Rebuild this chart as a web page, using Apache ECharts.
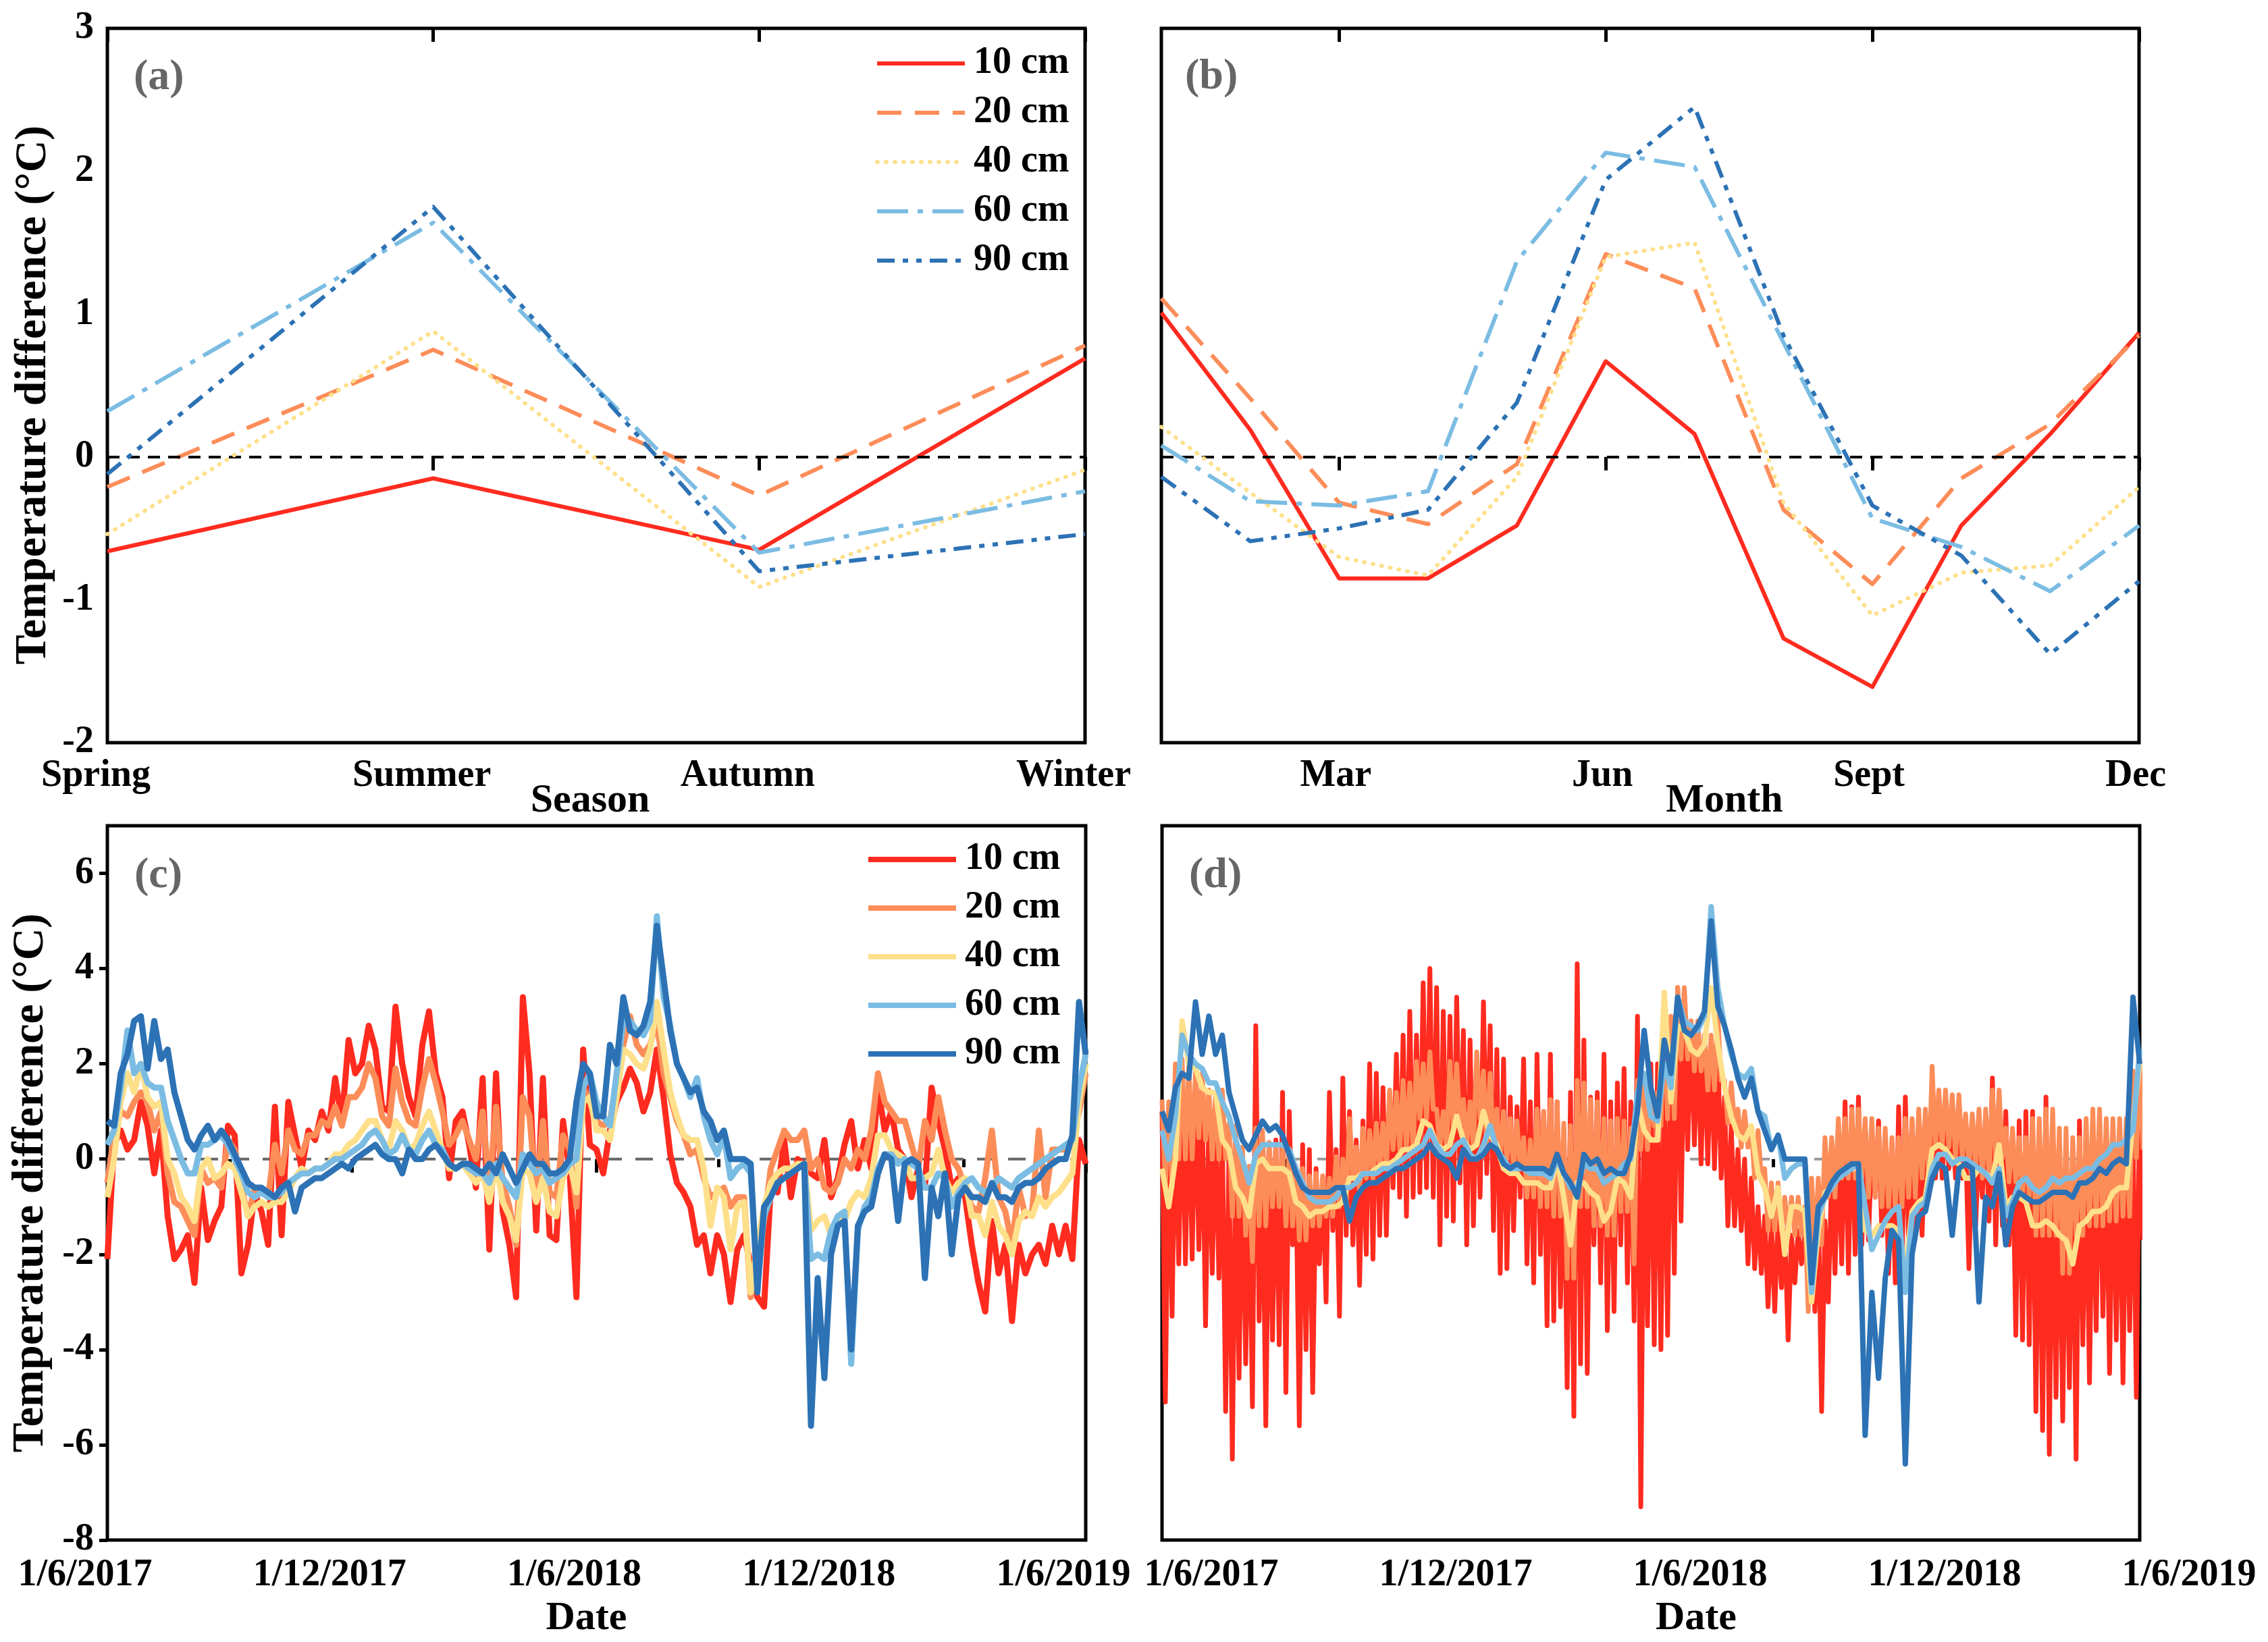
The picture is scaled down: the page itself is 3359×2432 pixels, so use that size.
<!DOCTYPE html>
<html>
<head>
<meta charset="utf-8">
<script src="https://cdn.jsdelivr.net/npm/echarts@6/dist/echarts.min.js"></script>
<style>
  html, body { margin: 0; padding: 0; background: #fff; }
  #chart { width: 3359px; height: 2432px; }
</style>
</head>
<body>
<div id="chart"></div>
<script>
const FONT = "'Liberation Serif', serif";

// depth series shared by all panels
const depthNames = ['10 cm', '20 cm', '40 cm', '60 cm', '90 cm'];
const depthColors = ['#FF2B1F', '#FC8D59', '#FEE08B', '#7BBCE3', '#2C72B5'];
const depthDashes = ['solid', [36, 20], [1, 12], [46, 14, 8, 14], [26, 12, 8, 12, 8, 12]];

// (a) seasonal mean difference
const seasons = ['Spring', 'Summer', 'Autumn', 'Winter'];
const a10 = [-0.66, -0.15, -0.65, 0.69];
const a20 = [-0.21, 0.75, -0.27, 0.78];
const a40 = [-0.54, 0.88, -0.91, -0.09];
const a60 = [0.32, 1.64, -0.67, -0.24];
const a90 = [-0.12, 1.75, -0.80, -0.54];

// (b) monthly mean difference
const months = [1, 2, 3, 4, 5, 6, 7, 8, 9, 10, 11, 12];
const monthTicks = [3, 6, 9, 12];
const monthTickLabels = ['Mar', 'Jun', 'Sept', 'Dec'];
const b10 = [1.01, 0.19, -0.85, -0.85, -0.48, 0.67, 0.16, -1.27, -1.61, -0.48, 0.16, 0.87];
const b20 = [1.11, 0.41, -0.32, -0.47, -0.05, 1.42, 1.18, -0.37, -0.89, -0.15, 0.23, 0.85];
const b40 = [0.21, -0.25, -0.70, -0.83, -0.14, 1.40, 1.50, -0.32, -1.11, -0.81, -0.76, -0.21];
const b60 = [0.08, -0.31, -0.34, -0.24, 1.37, 2.13, 2.03, 0.80, -0.43, -0.63, -0.94, -0.48];
const b90 = [-0.14, -0.59, -0.50, -0.37, 0.38, 1.94, 2.45, 0.85, -0.34, -0.69, -1.38, -0.87];

// (c), (d) time series: one value every DAY_STEP days from 1/6/2017
const DAY_STEP = 5;
const dateTickLabels = ['1/6/2017', '1/12/2017', '1/6/2018', '1/12/2018', '1/6/2019'];
const tempTicks = [-8, -6, -4, -2, 0, 2, 4, 6];

const c10 = [
  -2.1, 0.3, 0.6, 0.2, 0.4, 1.2, 0.7, -0.3, 0.6, -1.2,
  -2.1, -1.9, -1.6, -2.6, -0.6, -1.7, -1.3, -1.0, 0.7, 0.5,
  -2.4, -1.8, -0.7, -1.1, -1.8, 1.1, -1.6, 1.2, 0.5, -0.2,
  0.6, 0.4, 1.0, 0.6, 1.7, 0.8, 2.5, 1.8, 2.0, 2.8,
  2.3, 1.1, 1.0, 3.2, 2.0, 1.3, 0.9, 2.4, 3.1, 1.8,
  1.3, -0.4, 0.8, 1.0, 0.3, -0.6, 1.7, -1.9, 1.8, -1.1,
  -1.8, -2.9, 3.4, 1.8, -1.5, 1.7, -1.6, -1.7, 0.8, -0.3,
  -2.9, 2.3, 0.3, 0.2, -0.3, 0.6, 1.2, 1.5, 1.9, 1.6,
  1.0, 1.4, 2.3, 1.3, 0.1, -0.5, -0.7, -1.0, -1.8, -1.6,
  -2.4, -1.6, -2.0, -3.0, -1.9, -1.6, -2.2, -2.9, -3.1, -0.6,
  -0.7, 0.4, -0.8, 0.0, -0.1, -0.3, -0.4, 0.4, -0.8, -0.4,
  0.3, 0.8, -0.2, 0.4, -0.2, 1.5, 0.6, 1.0, 0.2, 0.0,
  -0.8, -0.2, -0.6, 1.5, 0.8, 0.2, -0.6, -0.4, -0.8, -1.8,
  -2.6, -3.2, -1.3, -2.4, -1.8, -3.4, -1.8, -2.4, -2.0, -1.8,
  -2.2, -1.4, -2.0, -1.4, -2.1, 0.4, -0.1
];
const c20 = [
  -0.5, 0.5, 1.0, 0.9, 1.2, 1.4, 1.2, 0.6, 1.0, -0.3,
  -0.9, -1.0, -1.3, -1.6, -0.2, -0.5, -0.4, -0.6, 0.4, 0.2,
  -0.6, -1.2, -0.6, -0.7, -0.8, 0.3, -0.3, 0.6, 0.2, 0.1,
  0.5, 0.5, 0.8, 0.7, 1.1, 0.7, 1.3, 1.3, 1.5, 2.0,
  1.7, 0.9, 0.7, 1.9, 1.2, 0.8, 0.7, 1.5, 2.1, 1.6,
  1.0, 0.3, 0.5, 0.8, 0.4, 0.0, 1.0, -0.6, 1.1, -0.5,
  -1.0, -1.8, 1.3, 0.9, -0.8, 0.8, -0.7, -0.8, 0.5, 0.2,
  -1.0, 1.5, 1.2, 0.8, 0.7, 0.8, 1.6, 2.4, 3.0, 2.4,
  2.2, 2.4, 2.9, 1.8, 1.3, 0.8, 0.5, 0.1, 0.2, -0.4,
  -0.8, -0.7, -0.6, -1.0, -0.8, -0.8, -2.9, -1.8, -1.3, -0.2,
  0.2, 0.6, 0.4, 0.4, 0.6, -0.2, 0.0, -0.6, -0.7, -0.5,
  0.0, -0.2, 0.2, 0.0, 0.6, 1.8, 1.2, 1.0, 0.8, 0.8,
  0.3, -0.2, 0.8, 0.4, 1.3, 0.6, 0.0, -0.2, -0.6, -1.0,
  -1.1, -0.4, 0.6, -0.8, -1.1, -1.8, -0.6, -1.2, -1.1, 0.6,
  -0.8, 0.2, 0.2, 0.2, 0.4, 1.0, 1.8
];
const c40 = [
  -0.8, 0.0, 1.2, 1.8, 1.4, 2.0, 1.3, 1.1, 1.2, 0.0,
  -0.3, -0.8, -1.0, -1.3, -0.2, 0.0, -0.4, -0.3, -0.1, -0.2,
  -0.7, -1.2, -1.0, -0.9, -1.0, -0.9, -0.9, -0.7, -0.4, -0.2,
  -0.3, -0.2, -0.2, -0.1, 0.1, 0.1, 0.3, 0.4, 0.6, 0.8,
  0.8, 0.4, 0.2, 0.8, 0.6, 0.2, 0.3, 0.7, 1.0, 0.6,
  0.2, -0.2, -0.2, -0.1, -0.3, -0.5, -0.3, -0.9, -0.1, -0.9,
  -1.2, -1.7, -0.2, -0.3, -0.9, -0.4, -1.1, -1.2, -0.4, -0.1,
  -0.7, 1.2, 1.3, 0.6, 0.6, 0.4, 1.3, 2.3, 2.2, 2.0,
  1.9, 2.3, 3.3, 2.3, 1.4, 0.9, 0.5, 0.4, 0.4, -0.2,
  -1.4, -0.6, -0.8, -1.9, -1.0, -0.9, -2.8, -1.8, -1.0, -0.5,
  -0.3, -0.2, -0.2, -0.1, -0.1, -1.5, -1.3, -1.2, -1.6, -1.2,
  -1.3, -0.9, -0.7, -0.8, -0.4, 0.5, 0.5, 0.2, 0.1, 0.0,
  -0.4, -0.4, -0.4, -0.3, 0.2, -0.4, -0.7, -0.5, -0.4, -1.2,
  -1.2, -1.6, -0.9, -1.4, -1.6, -2.0, -1.3, -1.1, -1.2, -0.8,
  -1.0, -0.8, -0.7, -0.5, -0.3, 1.2, 2.0
];
const c60 = [
  0.3, 0.6, 1.5, 2.7, 1.8, 2.0, 1.6, 1.5, 1.5, 0.8,
  0.4, 0.0, -0.3, -0.3, 0.3, 0.3, 0.4, 0.5, 0.3, 0.0,
  -0.3, -0.7, -0.8, -0.7, -0.8, -0.8, -0.7, -0.5, -0.4, -0.3,
  -0.3, -0.2, -0.2, -0.1, 0.0, 0.0, 0.1, 0.2, 0.3, 0.5,
  0.6, 0.4, 0.1, 0.2, 0.5, 0.2, 0.1, 0.4, 0.6, 0.3,
  0.2, -0.1, -0.2, -0.1, -0.2, -0.3, -0.3, -0.5, -0.1, -0.4,
  -0.6, -0.8, 0.1, -0.1, -0.3, -0.2, -0.5, -0.4, -0.3, -0.1,
  0.0, 1.5, 1.8, 1.2, 0.9, 0.7, 1.8, 2.9, 2.9, 2.7,
  2.6, 2.9, 5.1, 3.4, 2.8, 2.0, 1.7, 1.3, 1.7, 0.9,
  0.4, 0.1, 0.5, -0.4, -0.2, -0.1, -0.3, -2.6, -1.2, -0.8,
  -0.5, -0.4, -0.3, -0.2, -0.1, -2.1, -2.0, -2.1, -1.5, -1.2,
  -1.1, -4.3, -1.5, -1.0, -0.8, -0.2, 0.1, 0.1, -0.1, 0.0,
  -0.1, -0.2, -0.6, -0.6, -0.3, -0.4, -1.0, -0.7, -0.5, -0.4,
  -0.6, -0.7, -0.6, -0.4, -0.5, -0.6, -0.4, -0.3, -0.2, -0.1,
  0.0, 0.1, 0.2, 0.3, 0.4, 1.5, 2.2
];
const c90 = [
  0.8, 0.7, 1.8, 2.2, 2.9, 3.0, 1.9, 2.9, 2.1, 2.3,
  1.4, 0.9, 0.4, 0.2, 0.5, 0.7, 0.4, 0.6, 0.4, 0.1,
  -0.2, -0.5, -0.6, -0.6, -0.7, -0.8, -0.6, -0.5, -1.1, -0.6,
  -0.5, -0.4, -0.4, -0.3, -0.2, -0.1, -0.2, 0.0, 0.1, 0.2,
  0.3, 0.1, 0.0, 0.0, -0.3, 0.2, 0.0, 0.0, 0.2, 0.3,
  0.1, -0.1, -0.2, -0.1, -0.1, -0.2, -0.3, -0.1, -0.3, 0.1,
  -0.2, -0.5, -0.2, 0.1, -0.1, -0.1, -0.3, -0.3, -0.2, 0.0,
  1.2, 2.0, 1.8, 0.9, 0.9, 2.4, 2.0, 3.4, 2.7, 2.6,
  2.8, 3.3, 4.9, 3.8, 2.7, 2.0, 1.7, 1.4, 1.5, 1.0,
  0.8, 0.4, 0.6, 0.0, 0.0, 0.0, -0.1, -2.8, -1.0, -0.8,
  -0.5, -0.4, -0.3, -0.2, -0.1, -5.6, -2.5, -4.6, -2.0, -1.4,
  -1.3, -4.0, -1.4, -1.1, -1.0, -0.3, 0.1, 0.0, -1.3, -0.1,
  0.0, -0.1, -2.5, -0.6, -1.2, -0.3, -2.0, -0.8, -0.6, -0.8,
  -0.8, -0.9, -0.5, -0.8, -0.8, -0.9, -0.6, -0.5, -0.5, -0.4,
  -0.2, -0.1, 0.0, 0.0, 0.5, 3.3, 2.2
];

// (d) 10 cm and 20 cm swing strongly within each step: upper and lower readings
const d10Hi = [
  1.0, 0.8, 1.2, 1.6, 1.5, 1.6, 1.2, 1.0, 0.8, 0.7,
  0.2, 0.2, 0.0, -0.2, 2.8, 0.0, 0.2, 0.4, 1.4, 1.0,
  -0.2, 0.3, 0.2, -0.2, -0.4, 1.4, 0.2, 1.7, 1.0, 0.4,
  0.8, 2.0, 1.8, 1.5, 1.4, 2.2, 2.6, 3.1, 2.6, 3.7,
  4.0, 3.6, 3.1, 3.0, 3.4, 2.7, 2.5, 1.9, 3.3, 2.8,
  2.3, 2.1, 1.3, 1.1, 2.1, 1.2, 2.2, 1.0, 2.2, 1.2,
  0.6, 1.4, 4.1, 2.5, 1.3, 1.4, 2.2, 1.2, 1.6, 1.9,
  1.2, 3.0, 1.5, 2.0, 2.0, 1.85, 2.9, 3.6, 3.0, 2.9,
  2.5, 2.6, 2.4, 2.3, 1.3, 0.7, 0.2, 0.0, -0.4, -1.0,
  -1.2, -1.3, -1.2, -1.5, -1.6, -1.5, -1.6, -1.8, -0.8, -1.3,
  -0.3, 0.5, 1.2, 1.1, 1.3, 0.6, 0.4, 0.8, 0.2, 0.2,
  1.1, 1.3, 0.8, 0.2, 0.6, 1.2, 1.2, 1.0, 0.8, 0.6,
  0.4, 0.3, 0.4, 0.8, 1.7, 1.1, 1.0, 0.6, 0.8, 1.0,
  1.0, 0.3, 1.3, 0.2, 0.0, -0.2, 0.2, 0.8, 0.0, 0.2,
  0.8, 0.2, 0.6, 0.4, 0.2, 0.6, 1.6
];
const d10Lo = [
  -5.1, -3.3, -2.2, -2.2, -2.1, -1.9, -3.5, -2.4, -2.5, -5.3,
  -6.3, -4.6, -4.3, -5.2, -3.4, -5.6, -3.8, -3.9, -4.9, -1.8,
  -5.6, -4.0, -4.9, -2.2, -3.0, -1.5, -3.3, -1.6, -1.8, -2.65,
  -2.0, -2.1, -1.6, -1.6, -0.6, -0.8, -1.2, -0.8, -0.7, -0.6,
  -0.8, -1.8, -1.2, -1.3, -0.5, -1.8, -1.4, -0.8, -0.3, -1.5,
  -2.4, -2.3, -1.5, -0.8, -2.2, -2.6, -2.0, -3.5, -3.4, -3.1,
  -4.8, -5.4, -4.3, -4.5, -1.8, -2.6, -3.6, -3.2, -1.8, -2.6,
  -3.4, -7.3, -3.5, -3.9, -4.0, -3.7, -2.4, -1.3, 0.2, 0.3,
  -0.1, -0.1, -0.2, -0.4, -1.4, -1.4, -1.5, -2.2, -2.3, -2.4,
  -3.1, -3.2, -2.7, -3.8, -2.6, -2.2, -2.0, -3.2, -5.3, -3.0,
  -2.4, -2.2, -2.4, -2.0, -1.8, -1.7, -0.8, -1.6, -2.4, -2.6,
  -2.3, -1.8, -1.6, -1.6, -0.8, -0.4, -0.4, -0.2, -0.4, -0.4,
  -2.3, -1.4, -0.8, -1.3, -1.8, -1.4, -1.8, -3.7, -3.8, -3.9,
  -5.3, -5.7, -6.2, -5.0, -5.5, -4.8, -6.3, -3.9, -4.7, -3.6,
  -3.3, -4.5, -3.8, -4.7, -3.6, -5.0, -1.7
];
const d20Hi = [
  1.25, 1.2, 2.0, 2.1, 2.0, 1.85, 1.8, 1.45, 1.4, 1.45,
  0.75, 0.7, 0.25, -0.15, 0.65, 0.6, 0.35, 0.3, 0.25, 0.2,
  -0.15, -0.2, -0.35, -0.3, -0.35, -0.4, 0.05, 0.0, 0.85, 0.25,
  0.65, 0.6, 0.75, 0.75, 1.45, 1.4, 1.65, 1.6, 2.05, 2.0,
  2.25, 1.05, 1.0, 2.05, 2.0, 1.25, 1.2, 2.25, 1.85, 1.8,
  1.05, 1.0, 0.85, 0.8, 0.45, 0.4, 1.05, 1.0, 1.25, 1.2,
  0.75, 0.7, 1.65, 1.6, 1.25, 1.2, 0.85, 0.8, 0.85, 0.8,
  0.65, 1.65, 1.6, 1.45, 1.4, 3.0, 3.0, 3.6, 3.6, 2.9,
  2.9, 2.6, 2.6, 3.0, 1.65, 1.6, 1.05, 1.0, 0.65, 0.6,
  -0.2, -0.5, -0.5, -0.8, -0.8, -0.8, -1.0, -0.4, -0.4, 0.45,
  0.45, 0.85, 0.85, 1.05, 1.05, 0.85, 0.85, 0.65, 0.65, 0.45,
  0.45, 0.85, 0.85, 1.05, 1.05, 1.95, 1.45, 1.45, 1.35, 1.35,
  0.95, 0.95, 1.05, 1.05, 1.45, 1.45, 0.65, 0.65, 0.45, 0.45,
  0.85, 0.85, 1.05, 1.05, 0.65, 0.65, 0.45, 0.45, 0.85, 1.05,
  1.05, 0.85, 0.85, 0.85, 0.85, 1.85, 2.0
];
const d20Lo = [
  -0.6, -0.6, 0.0, 0.0, 0.0, 0.45, 0.4, 0.0, 0.0, 0.0,
  -1.2, -1.2, -1.6, -2.15, -1.4, -1.4, -1.0, -1.0, -1.4, -1.4,
  -1.7, -1.7, -1.4, -1.4, -1.2, -1.2, -1.0, -1.0, -0.4, -0.7,
  -0.4, -0.4, -0.2, -0.2, 0.2, 0.2, 0.2, 0.2, 0.85, 0.85,
  1.05, 0.25, 0.25, 0.65, 0.65, 0.25, 0.25, 0.85, 0.25, 0.25,
  0.0, 0.0, -0.2, -0.2, -0.8, -0.8, -1.0, -1.0, -1.2, -1.2,
  -2.5, -2.5, -1.0, -1.0, -1.4, -1.4, -1.6, -1.6, -1.1, -1.1,
  -2.2, 0.2, 0.2, 0.7, 0.7, 0.85, 0.85, 2.1, 2.1, 1.85,
  1.85, 1.45, 1.45, 1.65, 0.75, 0.75, 0.25, 0.25, -0.4, -0.4,
  -1.5, -1.5, -1.5, -1.6, -1.6, -1.6, -3.2, -1.8, -1.8, -0.8,
  -0.8, -0.4, -0.4, -0.4, -0.4, -0.8, -0.8, -1.0, -1.0, -1.0,
  -1.0, -0.8, -0.8, -0.4, -0.4, 0.25, 0.25, 0.25, 0.03, 0.03,
  -0.17, -0.17, -0.4, -0.4, 0.03, 0.03, -0.48, -0.48, -0.8, -0.8,
  -1.6, -1.6, -1.6, -1.6, -2.4, -2.4, -1.6, -1.6, -1.4, -1.4,
  -1.4, -1.3, -1.3, -1.2, -1.2, 0.03, 0.2
];
const d40 = [
  -0.2, -1.0, 0.0, 2.9, 2.0, 1.9, 1.5, 1.4, 1.4, 0.4,
  0.2, -0.6, -0.8, -1.2, -0.1, 0.0, -0.2, -0.2, -0.2, -0.3,
  -0.9, -1.0, -1.2, -1.1, -1.1, -1.0, -1.0, -0.9, -0.4, -0.4,
  -0.3, -0.3, -0.2, -0.1, -0.1, 0.0, 0.2, 0.2, 0.3, 0.8,
  0.7, 0.3, 0.2, 0.3, 0.9, 0.4, 0.2, 0.3, 1.0, 0.5,
  0.3, -0.2, -0.3, -0.3, -0.5, -0.5, -0.5, -0.6, -0.6, 0.0,
  -0.8, -1.8, -0.5, -0.5, -0.7, -0.8, -1.3, -1.1, -0.4, -0.5,
  -0.8, 1.2, 0.6, 0.4, 0.4, 3.5, 1.2, 2.8, 2.7, 2.3,
  2.2, 2.4, 3.6, 2.4, 1.5, 0.9, 0.5, 0.4, 0.7, -0.3,
  -0.6, -1.2, -0.6, -2.0, -1.0, -1.0, -1.1, -3.0, -1.5, -0.7,
  -0.6, -0.3, -0.2, -0.2, -0.2, -1.5, -1.6, -1.4, -1.4, -1.4,
  -1.5, -2.3, -1.1, -0.9, -0.8, 0.2, 0.3, 0.2, 0.0, -0.1,
  -0.4, -0.4, -0.2, -0.3, -0.4, 0.3, -1.0, -0.8, -0.8, -0.9,
  -1.4, -1.4, -1.3, -1.4, -1.6, -1.7, -2.2, -1.4, -1.3, -1.1,
  -1.1, -1.0, -0.7, -0.6, -0.6, 0.8, 2.0
];
const d60 = [
  0.6, 0.0, 0.9, 2.6, 2.2, 2.0, 1.9, 1.6, 1.6, 1.2,
  0.9, 0.4, 0.0, -0.5, 0.1, 0.3, 0.3, 0.3, 0.3, 0.2,
  -0.2, -0.5, -0.8, -0.9, -0.9, -0.9, -0.8, -0.6, -0.6, -0.5,
  -0.3, -0.3, -0.3, -0.2, -0.2, -0.1, 0.0, 0.1, 0.2, 0.3,
  0.6, 0.3, 0.1, 0.1, 0.3, 0.4, 0.1, 0.0, 0.3, 0.7,
  0.2, 0.0, -0.2, -0.2, -0.2, -0.3, -0.3, -0.3, -0.4, 0.0,
  -0.3, -0.6, -0.6, -0.1, -0.2, -0.2, -0.5, -0.4, -0.3, -0.1,
  0.0, 1.4, 1.8, 0.9, 0.8, 2.0, 1.5, 3.4, 2.9, 2.8,
  2.7, 3.0, 5.3, 3.6, 2.8, 2.2, 1.8, 1.7, 1.9, 1.0,
  0.9, 0.2, 0.5, -0.4, -0.2, -0.1, -0.1, -2.8, -1.2, -0.8,
  -0.6, -0.4, -0.3, -0.2, -0.1, -1.0, -1.9, -1.6, -1.3, -1.1,
  -1.0, -2.8, -1.2, -1.0, -0.9, -0.2, 0.1, 0.1, -0.1, 0.0,
  0.0, -0.1, -0.2, -0.3, -0.5, -0.2, -1.2, -0.9, -0.5, -0.4,
  -0.6, -0.7, -0.6, -0.4, -0.5, -0.4, -0.4, -0.3, -0.2, -0.2,
  0.0, 0.1, 0.3, 0.3, 0.4, 0.6, 2.3
];
const d90 = [
  1.0, 0.6, 1.5, 1.8, 1.7, 3.3, 2.2, 3.0, 2.2, 2.6,
  1.4, 0.9, 0.4, 0.2, 0.5, 0.8, 0.6, 0.7, 0.5, 0.1,
  -0.3, -0.6, -0.7, -0.7, -0.7, -0.7, -0.6, -0.6, -1.3, -0.8,
  -0.6, -0.5, -0.5, -0.4, -0.3, -0.2, -0.2, -0.1, 0.0, 0.1,
  0.3, 0.1, 0.0, -0.1, -0.4, 0.2, 0.0, 0.0, 0.1, 0.3,
  0.2, -0.1, -0.2, -0.1, -0.2, -0.2, -0.2, -0.2, -0.3, 0.1,
  -0.3, -0.5, -0.8, 0.1, -0.1, 0.0, -0.3, -0.2, -0.3, -0.3,
  0.1, 1.0, 2.7, 1.5, 0.9, 2.5, 1.8, 3.4, 2.7, 2.6,
  2.8, 3.1, 5.0, 3.2, 2.8, 2.3, 1.7, 1.3, 1.7, 1.0,
  0.6, 0.2, 0.5, 0.0, 0.0, 0.0, 0.0, -2.6, -1.0, -0.8,
  -0.5, -0.3, -0.2, -0.1, -0.1, -5.8, -2.8, -4.6, -2.5, -1.5,
  -1.7, -6.4, -2.0, -1.2, -1.1, -0.4, -0.1, -0.2, -1.6, -0.2,
  -0.1, -0.2, -3.0, -0.8, -1.0, -0.3, -1.8, -1.0, -0.7, -0.8,
  -0.9, -0.9, -0.8, -0.7, -0.7, -0.7, -0.8, -0.5, -0.5, -0.4,
  -0.2, -0.3, -0.1, 0.0, -0.1, 3.4, 2.0
];

// 构建图表
const chart = echarts.init(document.getElementById('chart'));

const aData = [a10, a20, a40, a60, a90];
const bData = [b10, b20, b40, b60, b90];
const cData = [c10, c20, c40, c60, c90];
const dData = [[d10Hi, d10Lo], [d20Hi, d20Lo], d40, d60, d90];
const LAST_DAY = (c10.length - 1) * DAY_STEP;
const HALF_YEAR = LAST_DAY / 4;

function daySeries(values) {
    return values.map((v, i) => [i * DAY_STEP, v]);
}

// upper reading at the step, lower reading half a step later
function swingSeries(hi, lo) {
    const out = [];
    hi.forEach((v, i) => {
        out.push([i * DAY_STEP, v]);
        out.push([i * DAY_STEP + DAY_STEP / 2, lo[i]]);
    });
    return out;
}

const tickText = { fontFamily: FONT, fontWeight: 'bold', fontSize: 56, color: '#000' };
const nameText = { fontFamily: FONT, fontWeight: 'bold', fontSize: 60, lineHeight: 60, color: '#000' };
const tickLine = { color: '#000', width: 5 };
const hidden = { show: false };

function lineSeries(name, k, xIdx, yIdx, data, width, dash) {
    return {
        name: name,
        type: 'line',
        xAxisIndex: xIdx,
        yAxisIndex: yIdx,
        data: data,
        symbol: 'none',
        z: 3 + k,
        lineStyle: {
            color: depthColors[k],
            width: width,
            type: dash,
            cap: Array.isArray(dash) && dash[0] === 1 ? 'round' : 'butt',
            join: 'round'
        },
        itemStyle: { color: depthColors[k] }
    };
}

const zeroMark = {
    silent: true,
    symbol: ['none', 'none'],
    label: { show: false },
    lineStyle: { color: '#000', width: 4, type: [18, 12] },
    data: [{ yAxis: 0 }]
};

const series = [];
depthNames.forEach((n, k) => {
    const sa = lineSeries(n + '|a', k, 0, 0, aData[k], 6, depthDashes[k]);
    const sb = lineSeries(n + '|b', k, 2, 1, months.map((m, j) => [m, bData[k][j]]), 6, depthDashes[k]);
    if (k === 0) {
        sa.markLine = zeroMark;
        sb.markLine = zeroMark;
    }
    series.push(sa, sb);
});

// grey zero reference under the time series
[[4, 2, '#666'], [5, 3, '#9a9a9a']].forEach(([xi, yi, col]) => {
    series.push({
        name: 'zero',
        type: 'line',
        xAxisIndex: xi,
        yAxisIndex: yi,
        data: [[0, 0], [LAST_DAY, 0]],
        symbol: 'none',
        silent: true,
        z: 1,
        lineStyle: { color: col, width: 4, type: [26, 20] }
    });
});

depthNames.forEach((n, k) => {
    series.push(lineSeries(n + '|c', k, 4, 2, daySeries(cData[k]), 9, 'solid'));
    const d = dData[k];
    const s = Array.isArray(d[0])
        ? lineSeries(n + '|d', k, 5, 3, swingSeries(d[0], d[1]), 7, 'solid')
        : lineSeries(n + '|d', k, 5, 3, daySeries(d), 8, 'solid');
    series.push(s);
});

function dateAxis(gridIndex, labelPad, namePad) {
    return {
        gridIndex: gridIndex,
        type: 'value',
        min: 0,
        max: LAST_DAY,
        interval: HALF_YEAR,
        axisLine: hidden,
        axisTick: { length: 20, lineStyle: tickLine },
        minorTick: { show: true, splitNumber: 2, length: 12, lineStyle: tickLine },
        splitLine: hidden,
        axisLabel: Object.assign({}, tickText, {
            margin: 25,
            padding: labelPad,
            formatter: v => dateTickLabels[Math.round(v / HALF_YEAR)] || ''
        }),
        name: 'Date',
        nameLocation: 'middle',
        nameGap: 86,
        nameMoveOverlap: false,
        nameTextStyle: Object.assign({}, nameText, { padding: namePad })
    };
}

const gridBox = { show: true, borderColor: '#000', borderWidth: 5, backgroundColor: 'transparent', outerBoundsMode: 'none' };

const legendBase = {
    orient: 'vertical',
    itemWidth: 130,
    itemHeight: 20,
    selectedMode: false,
    itemStyle: { opacity: 0 },
    formatter: name => name.split('|')[0],
    textStyle: { fontFamily: FONT, fontWeight: 'bold', fontSize: 56, color: '#000', lineHeight: 56, padding: [0, 0, 0, 8] }
};

const letterStyle = (text, x, y) => ({
    type: 'text',
    x: x,
    y: y,
    z: 10,
    style: { text: text, fill: '#666', font: 'bold 64px ' + FONT, align: 'left', verticalAlign: 'middle' }
});

const option = {
    animation: false,
    backgroundColor: '#fff',
    textStyle: { fontFamily: FONT },
    grid: [
        Object.assign({ left: 159, top: 42, width: 1448, height: 1058 }, gridBox),
        Object.assign({ left: 1720, top: 42, width: 1448, height: 1058 }, gridBox),
        Object.assign({ left: 159, top: 1223, width: 1449, height: 1058 }, gridBox),
        Object.assign({ left: 1721, top: 1223, width: 1448, height: 1058 }, gridBox)
    ],
    xAxis: [
        {
            gridIndex: 0,
            type: 'category',
            data: seasons,
            boundaryGap: false,
            axisLine: hidden,
            axisTick: { length: 20, lineStyle: tickLine, interval: 0 },
            axisLabel: Object.assign({}, tickText, { margin: 22, interval: 0, padding: [0, 34, 0, 0] }),
            splitLine: hidden,
            name: 'Season',
            nameLocation: 'middle',
            nameGap: 56,
            nameMoveOverlap: false,
            nameTextStyle: Object.assign({}, nameText, { padding: [0, 18, 0, 0] })
        },
        {
            gridIndex: 0,
            type: 'category',
            data: seasons,
            position: 'top',
            boundaryGap: false,
            axisLine: hidden,
            axisTick: { inside: true, length: 20, lineStyle: tickLine, interval: 0 },
            axisLabel: hidden,
            splitLine: hidden
        },
        {
            gridIndex: 1,
            type: 'value',
            min: 1,
            max: 12,
            axisLine: hidden,
            axisTick: { length: 20, lineStyle: tickLine, customValues: monthTicks },
            axisLabel: Object.assign({}, tickText, {
                margin: 22,
                padding: [0, 10, 0, 0],
                customValues: monthTicks,
                formatter: v => monthTickLabels[monthTicks.indexOf(v)] || ''
            }),
            splitLine: hidden,
            name: 'Month',
            nameLocation: 'middle',
            nameGap: 56,
            nameMoveOverlap: false,
            nameTextStyle: Object.assign({}, nameText, { padding: [0, 0, 0, 220] })
        },
        {
            gridIndex: 1,
            type: 'value',
            min: 1,
            max: 12,
            position: 'top',
            axisLine: hidden,
            axisTick: { inside: true, length: 20, lineStyle: tickLine, customValues: monthTicks },
            axisLabel: hidden,
            splitLine: hidden
        },
        dateAxis(2, [0, 66, 0, 0], [0, 30, 0, 0]),
        dateAxis(3, [0, 0, 0, 146], [0, 0, 0, 134])
    ],
    yAxis: [
        {
            gridIndex: 0,
            type: 'value',
            min: -2,
            max: 3,
            interval: 1,
            axisLine: hidden,
            axisTick: { length: 12, lineStyle: tickLine },
            axisLabel: Object.assign({}, tickText, { margin: 20 }),
            splitLine: hidden,
            name: 'Temperature difference (°C)',
            nameLocation: 'middle',
            nameGap: 76,
            nameMoveOverlap: false,
            nameTextStyle: Object.assign({}, nameText, { fontSize: 66, lineHeight: 66, padding: [0, 28, 0, 0] })
        },
        {
            gridIndex: 1,
            type: 'value',
            min: -2,
            max: 3,
            interval: 1,
            axisLine: hidden,
            axisTick: hidden,
            axisLabel: hidden,
            splitLine: hidden
        },
        {
            gridIndex: 2,
            type: 'value',
            min: -8,
            max: 7,
            interval: 2,
            axisLine: hidden,
            axisTick: { length: 12, lineStyle: tickLine, customValues: tempTicks },
            axisLabel: Object.assign({}, tickText, { margin: 20, customValues: tempTicks }),
            splitLine: hidden,
            name: 'Temperature difference (°C)',
            nameLocation: 'middle',
            nameGap: 80,
            nameMoveOverlap: false,
            nameTextStyle: Object.assign({}, nameText, { fontSize: 66, lineHeight: 66 })
        },
        {
            gridIndex: 3,
            type: 'value',
            min: -8,
            max: 7,
            interval: 2,
            axisLine: hidden,
            axisTick: hidden,
            axisLabel: hidden,
            splitLine: hidden
        }
    ],
    legend: [
        Object.assign({}, legendBase, {
            left: 1291,
            top: 61,
            itemGap: 17,
            lineStyle: { width: 6 },
            data: depthNames.map(n => n + '|a')
        }),
        Object.assign({}, legendBase, {
            left: 1277,
            top: 1240,
            itemGap: 16,
            lineStyle: { width: 8 },
            data: depthNames.map(n => n + '|c')
        })
    ],
    graphic: [
        letterStyle('(a)', 198, 115),
        letterStyle('(b)', 1755, 114),
        letterStyle('(c)', 199, 1297),
        letterStyle('(d)', 1761, 1297)
    ],
    series: series
};

chart.setOption(option);

window.addEventListener('resize', () => {
    chart.resize();
});
</script>
</body>
</html>
